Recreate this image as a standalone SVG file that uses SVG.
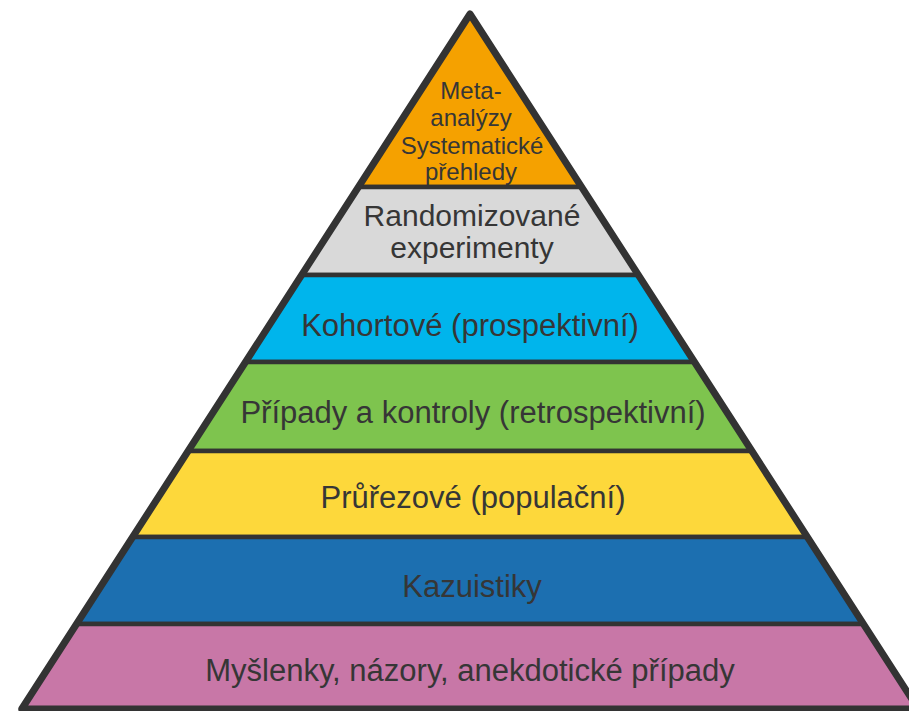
<svg xmlns="http://www.w3.org/2000/svg" width="909" height="711" viewBox="0 0 909 711">
  <style>
    .band { stroke: #333333; stroke-width: 4.5; stroke-linejoin: round; }
    .lbl { font-family: "Liberation Sans", Arial, sans-serif; font-size: 31px; fill: #363636; text-anchor: middle; }
    .small { font-size: 24px; }
    .mid { font-size: 30px; }
    .outline { fill: none; stroke: #333333; stroke-width: 7; stroke-linejoin: round; }
  </style>
  <rect x="0" y="0" width="909" height="711" fill="#ffffff"/>
  <g id="meta">
    <polygon class="band" fill="#F5A100" points="470,14 358.4,187 581.6,187"/>
    <text class="lbl small" x="471" y="99">Meta-</text>
    <text class="lbl small" x="471" y="126">analýzy</text>
    <text class="lbl small" x="472" y="154">Systematické</text>
    <text class="lbl small" x="471" y="180">přehledy</text>
  </g>
  <g id="randomizovane">
    <polygon class="band" fill="#D9D9D9" points="358.4,187 581.6,187 638.3,275 301.7,275"/>
    <text class="lbl mid" x="472" y="226">Randomizované</text>
    <text class="lbl mid" x="472" y="258">experimenty</text>
  </g>
  <g id="kohortove">
    <polygon class="band" fill="#00B5EC" points="301.7,275 638.3,275 694.5,362 245.5,362"/>
    <text class="lbl" x="470" y="336">Kohortové (prospektivní)</text>
  </g>
  <g id="pripady">
    <polygon class="band" fill="#7EC44E" points="245.5,362 694.5,362 751.9,451 188.1,451"/>
    <text class="lbl" x="473" y="423">Případy a kontroly (retrospektivní)</text>
  </g>
  <g id="prurezove">
    <polygon class="band" fill="#FDD83B" points="188.1,451 751.9,451 807.3,537 132.7,537"/>
    <text class="lbl" x="473" y="508">Průřezové (populační)</text>
  </g>
  <g id="kazuistiky">
    <polygon class="band" fill="#1C6FB0" points="132.7,537 807.3,537 863.5,624 76.5,624"/>
    <text class="lbl" x="472" y="597">Kazuistiky</text>
  </g>
  <g id="myslenky">
    <polygon class="band" fill="#C877A7" points="76.5,624 863.5,624 918.3,709 21.7,709"/>
    <text class="lbl" x="470" y="681">Myšlenky, názory, anekdotické případy</text>
  </g>
  <g id="connectors">
    <polygon class="outline" points="470,14 918.3,709 21.7,709"/>
  </g>
</svg>
